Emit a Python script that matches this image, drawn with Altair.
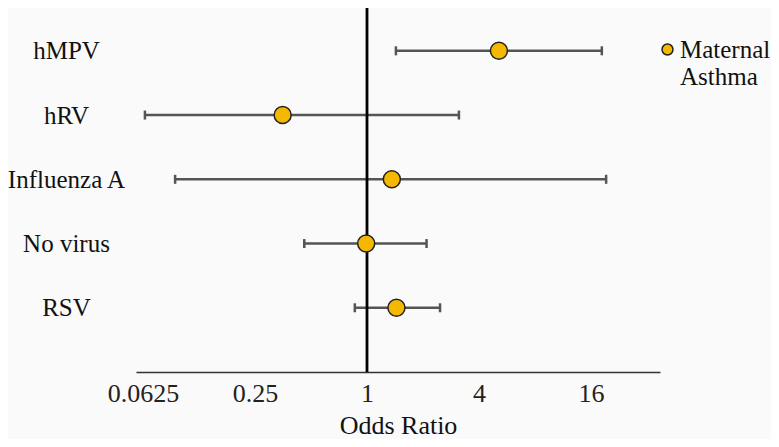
import altair as alt
import pandas as pd

# ---- data ----
viruses = ["hMPV", "hRV", "Influenza A", "No virus", "RSV"]
odds_ratio = [5.12, 0.352, 1.36, 0.99, 1.44]
ci_low = [1.43, 0.064, 0.093, 0.46, 0.86]
ci_high = [18.3, 3.12, 19.3, 2.09, 2.47]
groups = ["Maternal Asthma"] * 5
x_ticks = [0.0625, 0.25, 1, 4, 16]
x_domain = [0.0573, 37.6]
reference_line = [1]

df = pd.DataFrame({"virus": viruses, "or": odds_ratio, "lo": ci_low,
                   "hi": ci_high, "group": groups})
ref = pd.DataFrame({"or": reference_line})

FONT = "Liberation Serif"
GOLD = "#F5B800"
BAR = "#555555"

xscale = alt.Scale(type="log", base=2, domain=x_domain, nice=False)
yscale = alt.Scale(type="point", domain=viruses, padding=0.833, align=0.4)

xaxis = alt.Axis(title="Odds Ratio", values=x_ticks, format="~g", grid=False,
                 ticks=False, tickSize=0, domain=True, domainColor="#333333",
                 domainWidth=1.4, labelFont=FONT, labelFontSize=26,
                 labelColor="#222222", labelPadding=8, labelFlush=False,
                 labelOverlap=False, titleFont=FONT, titleFontSize=26,
                 titleFontWeight="normal", titleColor="#111111", titlePadding=6)
yaxis = alt.Axis(title=None, domain=False, ticks=False, tickSize=0, grid=False,
                 labelAlign="center", labelPadding=70, labelFont=FONT,
                 labelFontSize=25, labelColor="#111111", labelBaseline="middle")

base = alt.Chart(df)
Y = alt.Y("virus:N", scale=yscale, sort=viruses, axis=yaxis)

bars = base.mark_rule(color=BAR, strokeWidth=2.5).encode(
    x=alt.X("lo:Q", scale=xscale, axis=xaxis), x2="hi:Q", y=Y)
cap_lo = base.mark_tick(color=BAR, thickness=2.5, size=9, opacity=1).encode(
    x=alt.X("lo:Q", scale=xscale), y=Y)
cap_hi = base.mark_tick(color=BAR, thickness=2.5, size=9, opacity=1).encode(
    x=alt.X("hi:Q", scale=xscale), y=Y)

vline = alt.Chart(ref).mark_rule(color="black", strokeWidth=2.8).encode(
    x=alt.X("or:Q", scale=xscale), y=alt.value(0), y2=alt.value(364))

points = base.mark_circle(size=290, stroke="#222222", strokeWidth=1.5, opacity=1).encode(
    x=alt.X("or:Q", scale=xscale),
    y=Y,
    fill=alt.Fill("group:N", scale=alt.Scale(range=[GOLD]),
                  legend=alt.Legend(title=None, orient="none", legendX=519, legendY=29,
                                    labelExpr="split(datum.label, ' ')",
                                    labelFont=FONT, labelFontSize=25,
                                    labelColor="#111111", labelOffset=0,
                                    symbolType="circle", symbolSize=120,
                                    symbolStrokeColor="#222222", symbolStrokeWidth=1.5,
                                    symbolOpacity=1, padding=0)),
)

chart = alt.layer(bars, cap_lo, cap_hi, vline, points).properties(
    width=524, height=364,
    autosize=alt.AutoSizeParams(type="none"),
    padding={"left": 128, "top": 0, "right": 111, "bottom": 67},
    background="#fafafa",
).configure_view(stroke="transparent")

chart.save("out.html", embed_options={"renderer": "svg", "actions": False})
